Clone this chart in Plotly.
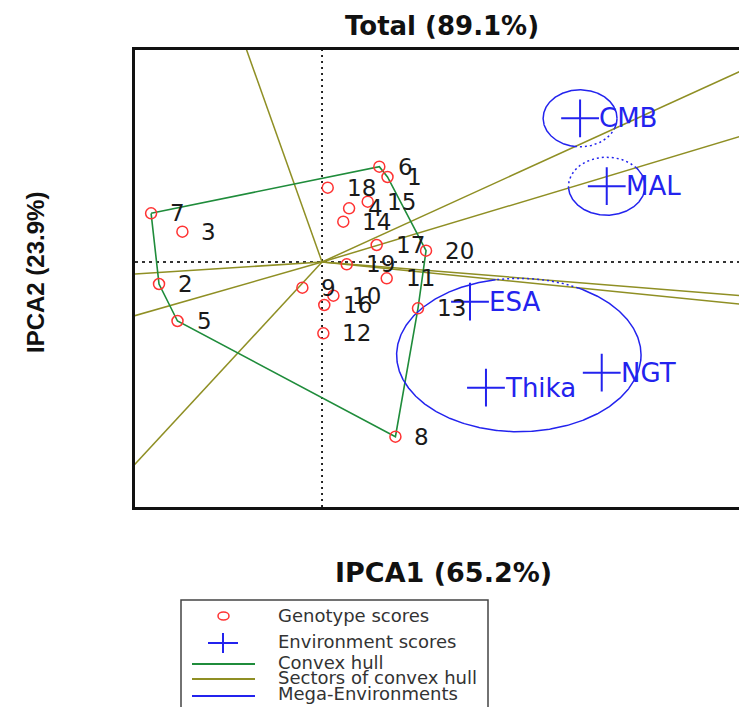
import numpy as np
import plotly.graph_objects as go

# ---- data: GGE biplot scores ----
genotypes = [str(i) for i in range(1, 21)]
geno_x = [0.496, -1.235, -1.058, 0.205, -1.095, 0.434, -1.295, 0.556, -0.149, 0.086,
          0.490, 0.010, 0.727, 0.161, 0.346, 0.017, 0.414, 0.043, 0.187, 0.788]
geno_y = [0.850, -0.220, 0.303, 0.537, -0.590, 0.953, 0.487, -1.747, -0.257, -0.337,
          -0.163, -0.713, -0.463, 0.403, 0.603, -0.430, 0.170, 0.743, -0.023, 0.113]

environments = ["CMB", "MAL", "ESA", "Thika", "NGT"]
env_x = [1.955, 2.157, 1.121, 1.242, 2.119]
env_y = [1.437, 0.758, -0.397, -1.257, -1.107]

# mega-environment outlines: centre, semi-axes and the winning genotype
mega_cx = [1.955, 2.157, 1.491]
mega_cy = [1.437, 0.758, -0.930]
mega_rx = [0.280, 0.290, 0.926]
mega_ry = [0.285, 0.290, 0.767]
mega_winner = ["6", "20", "8"]

title_text = "Total (89.1%)"
x_title = "IPCA1 (65.2%)"
y_title = "IPCA2 (23.9%)"
legend_labels = ["Genotype scores", "Environment scores", "Convex hull",
                 "Sectors of convex hull", "Mega-Environments"]

# ---- styling ----
RED = "#ff3333"
BLUE = "#2323ee"
GREEN = "#1f8c3b"
OLIVE = "#8f8f24"
INK = "#1a1a1a"

X_RANGE = [-1.417, 3.159]
Y_RANGE = [-2.45, 2.12]
W, H = 739, 707
M_L, M_R, M_T, M_B = 135, 0, 50, 200

G = np.column_stack([geno_x, geno_y])


def convex_hull(pts):
    idx = sorted(range(len(pts)), key=lambda i: (pts[i][0], pts[i][1]))

    def cross(o, a, b):
        return (pts[a][0] - pts[o][0]) * (pts[b][1] - pts[o][1]) - \
               (pts[a][1] - pts[o][1]) * (pts[b][0] - pts[o][0])

    lower, upper = [], []
    for i in idx:
        while len(lower) >= 2 and cross(lower[-2], lower[-1], i) <= 0:
            lower.pop()
        lower.append(i)
    for i in reversed(idx):
        while len(upper) >= 2 and cross(upper[-2], upper[-1], i) <= 0:
            upper.pop()
        upper.append(i)
    return lower[:-1] + upper[:-1]


hull = convex_hull(G)
hull_x = [geno_x[i] for i in hull] + [geno_x[hull[0]]]
hull_y = [geno_y[i] for i in hull] + [geno_y[hull[0]]]

# sector rays: from the origin, perpendicular to every hull edge
ray_x, ray_y = [], []
for k in range(len(hull)):
    a = G[hull[k]]
    b = G[hull[(k + 1) % len(hull)]]
    e = b - a
    n = np.array([e[1], -e[0]])
    if n @ a < 0:
        n = -n
    n = n / np.linalg.norm(n) * 10
    ray_x += [0, n[0], None]
    ray_y += [0, n[1], None]

fig = go.Figure()

# dotted reference axes through the origin
fig.add_trace(go.Scatter(x=[X_RANGE[0], X_RANGE[1]], y=[0, 0], mode="lines",
                         line=dict(color="#333333", width=1.8, dash="3px,4px"),
                         hoverinfo="skip", showlegend=False))
fig.add_trace(go.Scatter(x=[0, 0], y=[Y_RANGE[0], Y_RANGE[1]], mode="lines",
                         line=dict(color="#111111", width=1.8, dash="2px,4px"),
                         hoverinfo="skip", showlegend=False))

fig.add_trace(go.Scatter(x=ray_x, y=ray_y, mode="lines",
                         line=dict(color=OLIVE, width=1.5),
                         hoverinfo="skip", showlegend=False))
fig.add_trace(go.Scatter(x=hull_x, y=hull_y, mode="lines",
                         line=dict(color=GREEN, width=1.6),
                         hoverinfo="skip", showlegend=False))

# mega-environment outlines: solid inside the winner's sector, dotted outside
t = np.linspace(0, 2 * np.pi, 721)
for cx, cy, rx, ry, win in zip(mega_cx, mega_cy, mega_rx, mega_ry, mega_winner):
    px = cx + rx * np.cos(t)
    py = cy + ry * np.sin(t)
    scores = np.column_stack([px, py]) @ G.T
    inside = np.array([genotypes[j] == win for j in scores.argmax(axis=1)])
    sx, sy, dx, dy = [], [], [], []
    for i in range(len(t)):
        if inside[i]:
            sx.append(px[i]); sy.append(py[i])
        else:
            sx.append(None); sy.append(None)
        near_out = (not inside[i]) or (i > 0 and not inside[i - 1]) or \
                   (i < len(t) - 1 and not inside[i + 1])
        if near_out:
            dx.append(px[i]); dy.append(py[i])
        else:
            dx.append(None); dy.append(None)
    fig.add_trace(go.Scatter(x=sx, y=sy, mode="lines", connectgaps=False,
                             line=dict(color=BLUE, width=1.5),
                             hoverinfo="skip", showlegend=False))
    fig.add_trace(go.Scatter(x=dx, y=dy, mode="lines", connectgaps=False,
                             line=dict(color=BLUE, width=1.5, dash="2px,3px"),
                             hoverinfo="skip", showlegend=False))

fig.add_trace(go.Scatter(x=geno_x, y=geno_y, mode="markers", text=genotypes,
                         marker=dict(symbol="circle-open", size=11, color=RED,
                                     line=dict(width=1.5, color=RED)),
                         showlegend=False))
fig.add_trace(go.Scatter(x=env_x, y=env_y, mode="markers", text=environments,
                         marker=dict(symbol="cross-thin-open", size=27, color=BLUE,
                                     line=dict(width=2, color=BLUE)),
                         showlegend=False))

annotations = []
for g, x, y in zip(genotypes, geno_x, geno_y):
    annotations.append(dict(x=x, y=y, xref="x", yref="y", text=g, showarrow=False,
                            xanchor="left", yanchor="middle", xshift=17,
                            font=dict(family="DejaVu Sans", size=23, color=INK)))
for e, x, y in zip(environments, env_x, env_y):
    annotations.append(dict(x=x, y=y, xref="x", yref="y", text=e, showarrow=False,
                            xanchor="left", yanchor="middle", xshift=17,
                            font=dict(family="DejaVu Sans", size=26, color=BLUE)))

# helpers converting page pixels into paper coordinates
PW = W - M_L - M_R
PH = H - M_T - M_B


def xp(px):
    return (px - M_L) / PW


def yp(py):
    return (H - M_B - py) / PH


annotations.append(dict(x=xp(442), y=yp(26), xref="paper", yref="paper",
                        text="<b>%s</b>" % title_text, showarrow=False,
                        xanchor="center", yanchor="middle",
                        font=dict(family="DejaVu Sans", size=26, color="#111111")))
annotations.append(dict(x=xp(443), y=yp(572), xref="paper", yref="paper",
                        text="<b>%s</b>" % x_title, showarrow=False,
                        xanchor="center", yanchor="middle",
                        font=dict(family="DejaVu Sans", size=27, color="#111111")))
annotations.append(dict(x=xp(35), y=yp(272), xref="paper", yref="paper",
                        text="<b>%s</b>" % y_title, showarrow=False, textangle=-90,
                        xanchor="center", yanchor="middle",
                        font=dict(family="Liberation Sans", size=24, color="#111111")))

# legend box
shapes = [dict(type="rect", xref="paper", yref="paper",
               x0=xp(181), x1=xp(488), y0=yp(725), y1=yp(600),
               line=dict(color="#444444", width=1.5), fillcolor="white", layer="above")]
legend_rows = [615, 641, 662, 677, 693]
shapes.append(dict(type="circle", xref="paper", yref="paper",
                   x0=xp(218), x1=xp(229), y0=yp(620), y1=yp(612),
                   line=dict(color=RED, width=1.5), layer="above"))
shapes.append(dict(type="line", xref="paper", yref="paper",
                   x0=xp(208), x1=xp(238), y0=yp(643), y1=yp(643),
                   line=dict(color=BLUE, width=2), layer="above"))
shapes.append(dict(type="line", xref="paper", yref="paper",
                   x0=xp(223), x1=xp(223), y0=yp(633), y1=yp(653),
                   line=dict(color=BLUE, width=2), layer="above"))
for py, col in zip([664, 679, 696], [GREEN, OLIVE, BLUE]):
    shapes.append(dict(type="line", xref="paper", yref="paper",
                       x0=xp(192), x1=xp(255), y0=yp(py), y1=yp(py),
                       line=dict(color=col, width=2), layer="above"))
for lab, py in zip(legend_labels, legend_rows):
    annotations.append(dict(x=xp(276), y=yp(py), xref="paper", yref="paper",
                            text=lab, showarrow=False, xanchor="left", yanchor="middle",
                            font=dict(family="DejaVu Sans", size=18, color="#333333")))

fig.update_layout(
    width=W, height=H,
    margin=dict(l=M_L, r=M_R, t=M_T, b=M_B, pad=0),
    paper_bgcolor="white", plot_bgcolor="white",
    showlegend=False,
    annotations=annotations,
    shapes=shapes,
    xaxis=dict(range=X_RANGE, showgrid=False, zeroline=False, showticklabels=False,
               ticks="", showline=True, mirror=True, linecolor="#111111", linewidth=3),
    yaxis=dict(range=Y_RANGE, showgrid=False, zeroline=False, showticklabels=False,
               ticks="", showline=True, mirror=False, linecolor="#111111", linewidth=3),
)

fig.write_html("out.html")
